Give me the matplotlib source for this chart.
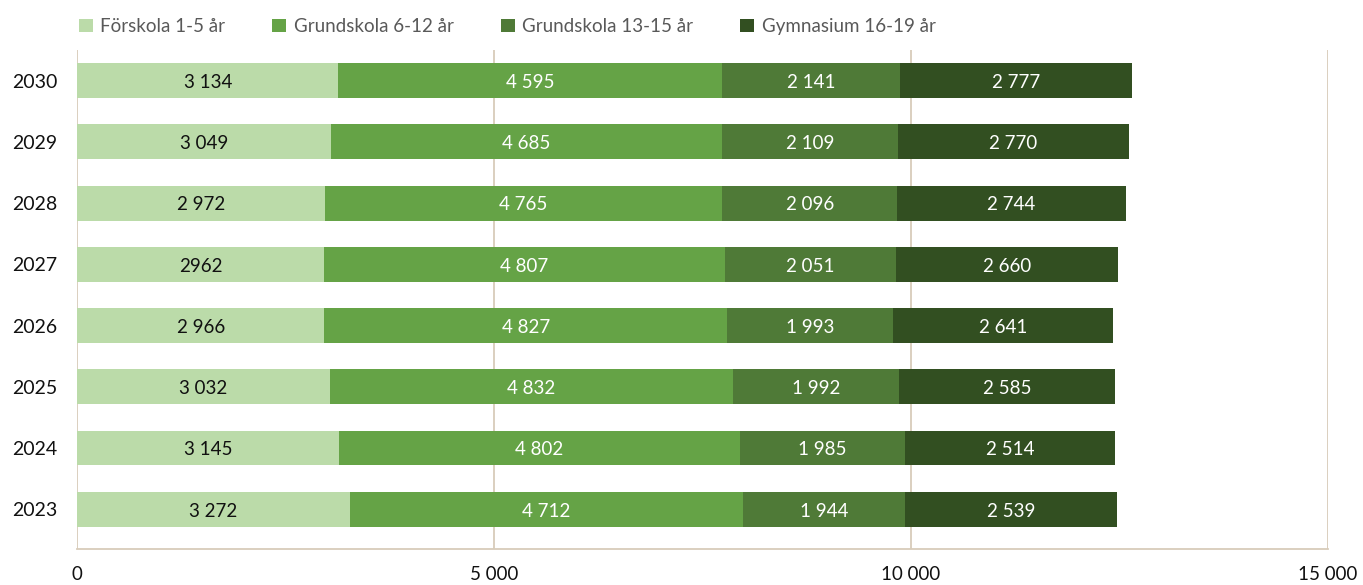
import matplotlib
matplotlib.use("Agg")
import numpy as np
import matplotlib.pyplot as plt
import matplotlib.patches as mpatches

years = ["2023", "2024", "2025", "2026", "2027", "2028", "2029", "2030"]
forskola = [3272, 3145, 3032, 2966, 2962, 2972, 3049, 3134]
grund_6_12 = [4712, 4802, 4832, 4827, 4807, 4765, 4685, 4595]
grund_13_15 = [1944, 1985, 1992, 1993, 2051, 2096, 2109, 2141]
gymnasium = [2539, 2514, 2585, 2641, 2660, 2744, 2770, 2777]
series_names = ["Förskola 1-5 år", "Grundskola 6-12 år", "Grundskola 13-15 år", "Gymnasium 16-19 år"]
x_ticks = [0, 5000, 10000, 15000]
# the source writes this one label without a separator
label_overrides = {(0, "2027"): "2962"}

COLORS = ["#BBDBA9", "#65A346", "#4F7A37", "#324F21"]
TEXT_COLORS = ["#111111", "white", "white", "white"]
GRID = "#D8CCBA"

plt.rcParams["font.family"] = ["Lato", "DejaVu Sans"]


def fmt(v):
    return f"{v:,}".replace(",", " ")


fig = plt.figure(figsize=(13.63, 5.85), dpi=100)
ax = fig.add_axes([77 / 1363, 36 / 585, 1251 / 1363, 499 / 585])

y = np.arange(len(years))
left = np.zeros(len(years))
for i, vals in enumerate([forskola, grund_6_12, grund_13_15, gymnasium]):
    vals = np.array(vals)
    ax.barh(y, vals, left=left, height=0.57, color=COLORS[i], zorder=3)
    for j, v in enumerate(vals):
        txt = label_overrides.get((i, years[j]), fmt(int(v)))
        ax.text(left[j] + v / 2, y[j] - 0.03, txt, ha="center", va="center",
                color=TEXT_COLORS[i], fontsize=13.5, zorder=4)
    left += vals

ax.set_xlim(0, 15000)
ax.set_ylim(-0.65, 7.5)
ax.set_xticks(x_ticks)
ax.set_xticklabels([fmt(t) for t in x_ticks], fontsize=13.5, color="#111111")
ax.set_yticks(y)
ax.set_yticklabels(years, fontsize=14, color="#111111")
ax.tick_params(axis="x", length=0, pad=12)
ax.tick_params(axis="y", length=0, pad=14)
ax.grid(axis="x", color=GRID, linewidth=1.3, zorder=0)
for side in ["top", "left", "right"]:
    ax.spines[side].set_visible(False)
ax.spines["bottom"].set_color(GRID)
ax.spines["bottom"].set_linewidth(1.3)

handles = [mpatches.Patch(facecolor=c, label=n) for c, n in zip(COLORS, series_names)]
fig.legend(handles=handles, loc="upper left", bbox_to_anchor=(62 / 1363, 0.998), ncol=4,
           frameon=False, fontsize=13.5, handlelength=0.75, handleheight=0.75,
           handletextpad=0.4, columnspacing=2.5, labelcolor="#595959")

fig.savefig("out.png", dpi=100)
